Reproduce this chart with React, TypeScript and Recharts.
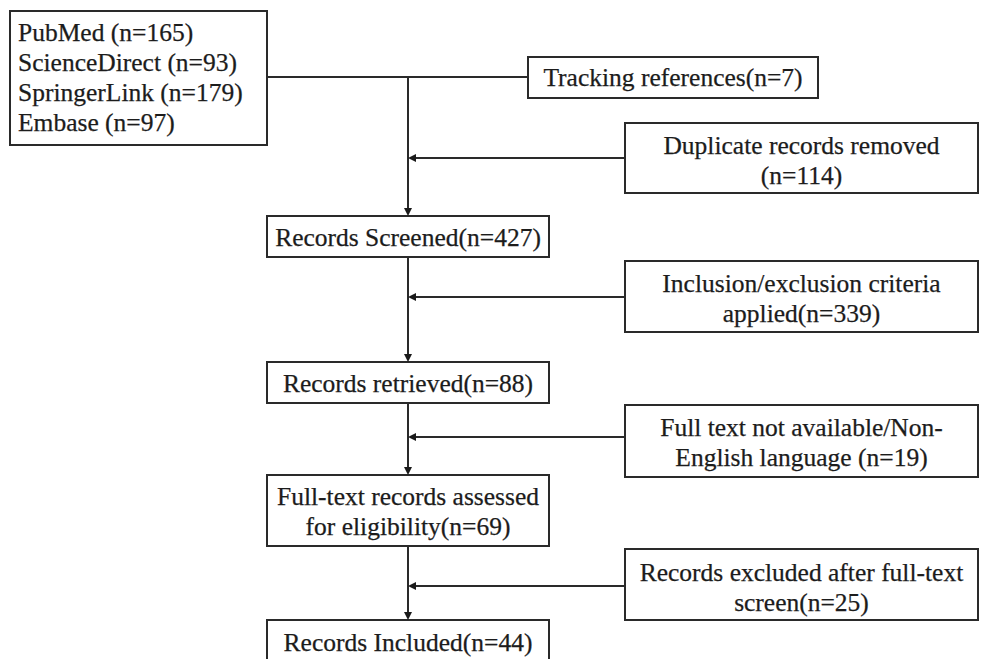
import { ComposedChart, XAxis, YAxis, ReferenceArea, ReferenceLine } from "recharts";

// box contents, top to bottom / left to right
const boxText: string[][] = [
  ["PubMed (n=165)", "ScienceDirect (n=93)", "SpringerLink (n=179)", "Embase (n=97)"],
  ["Tracking references(n=7)"],
  ["Duplicate records removed", "(n=114)"],
  ["Records Screened(n=427)"],
  ["Inclusion/exclusion criteria", "applied(n=339)"],
  ["Records retrieved(n=88)"],
  ["Full text not available/Non-", "English language (n=19)"],
  ["Full-text records assessed", "for eligibility(n=69)"],
  ["Records excluded after full-text", "screen(n=25)"],
  ["Records Included(n=44)"],
];
const boxAlign = ["start", "middle", "middle", "middle", "middle", "middle", "middle", "middle", "middle", "middle"];

// box extents in diagram units (y grows downward)
const boxLeft = [10, 528, 625, 267, 625, 267, 625, 267, 625, 267];
const boxRight = [267, 818, 978, 549, 978, 549, 978, 549, 978, 549];
const boxTop = [11, 57, 123, 216, 261, 362, 405, 475, 549, 620];
const boxBottom = [145, 98, 193, 257, 332, 403, 477, 546, 620, 690];
const textMid = [77, 77, 160, 237, 298, 383, 442, 511, 587, 642];

// connectors: [x1, y1, x2, y2, arrow]
const links: [number, number, number, number, boolean][] = [
  [267, 77, 528, 77, false],
  [408, 77, 408, 216, true],
  [625, 158, 408, 158, true],
  [408, 257, 408, 362, true],
  [625, 297, 408, 297, true],
  [408, 403, 408, 475, true],
  [625, 437, 408, 437, true],
  [408, 546, 408, 620, true],
  [625, 586, 408, 586, true],
];

const W = 982;
const H = 659;
const LINE_H = 30;
const INK = "#1c1c1c";

function Box(props: any) {
  const { x, y, width, height, lines, align, mid, top } = props;
  const cy = y + (mid - top);
  const tx = align === "start" ? x + 8 : x + width / 2;
  const first = cy - ((lines.length - 1) * LINE_H) / 2;
  return (
    <g>
      <rect x={x} y={y} width={width} height={height} fill="#fff" stroke="#2a2a2a" strokeWidth={2} />
      <text
        x={tx}
        textAnchor={align}
        fontFamily="'Liberation Serif', 'Times New Roman', serif"
        fontSize={25.5}
        fill={INK}
        stroke={INK}
        strokeWidth={0.25}
      >
        {lines.map((l: string, i: number) => (
          <tspan key={i} x={tx} y={first + i * LINE_H} dominantBaseline="central">
            {l}
          </tspan>
        ))}
      </text>
    </g>
  );
}

function Arrow(props: any) {
  const { x1, y1, x2, y2, arrow } = props;
  const dx = x2 - x1;
  const dy = y2 - y1;
  const len = Math.hypot(dx, dy) || 1;
  const ux = dx / len;
  const uy = dy / len;
  const hl = 8;
  const hw = 4;
  const bx = x2 - ux * hl;
  const by = y2 - uy * hl;
  return (
    <g>
      <line x1={x1} y1={y1} x2={arrow ? bx : x2} y2={arrow ? by : y2} stroke="#2a2a2a" strokeWidth={2} />
      {arrow && (
        <polygon
          points={`${x2},${y2} ${bx - uy * hw},${by + ux * hw} ${bx + uy * hw},${by - ux * hw}`}
          fill="#1a1a1a"
        />
      )}
    </g>
  );
}

export default function App() {
  return (
    <div style={{ position: "absolute", left: 0, top: 0, width: W, height: H, background: "#fff" }}>
      <ComposedChart width={W} height={H} data={[]} margin={{ top: 0, right: 0, bottom: 0, left: 0 }}>
        <XAxis type="number" dataKey="x" domain={[0, W]} hide allowDataOverflow />
        <YAxis type="number" dataKey="y" domain={[0, H]} reversed hide allowDataOverflow />
        {links.map((l, i) => (
          <ReferenceLine
            key={`l${i}`}
            segment={[
              { x: l[0], y: l[1] },
              { x: l[2], y: l[3] },
            ]}
            ifOverflow="visible"
            shape={(p: any) => <Arrow {...p} arrow={l[4]} />}
          />
        ))}
        {boxText.map((lines, i) => (
          <ReferenceArea
            key={`b${i}`}
            x1={boxLeft[i]}
            x2={boxRight[i]}
            y1={boxTop[i]}
            y2={boxBottom[i]}
            ifOverflow="visible"
            shape={(p: any) => (
              <Box {...p} lines={lines} align={boxAlign[i]} mid={textMid[i]} top={boxTop[i]} />
            )}
          />
        ))}
      </ComposedChart>
    </div>
  );
}
